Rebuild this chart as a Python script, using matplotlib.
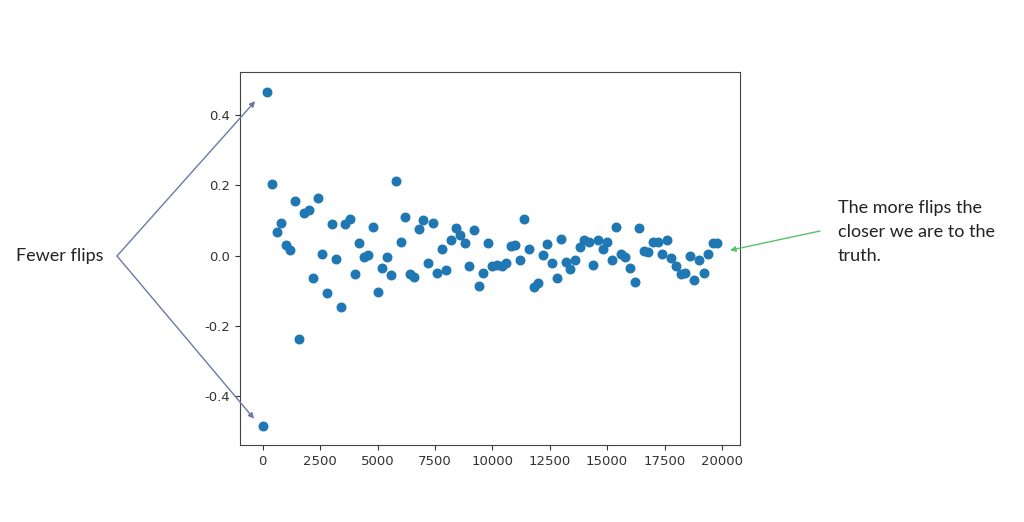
import numpy as np
import matplotlib.pyplot as plt

plt.rcParams['axes.unicode_minus'] = False

# number of flips (x) and estimation error (y)
flips = list(range(0, 20000, 200))
error = [
    -0.487, 0.467, 0.205, 0.067, 0.094, 0.031, 0.016, 0.155, -0.239, 0.121,
    0.131, -0.065, 0.165, 0.003, -0.106, 0.091, -0.009, -0.146, 0.091, 0.104,
    -0.053, 0.035, -0.005, 0.001, 0.081, -0.103, -0.035, -0.005, -0.055, 0.213,
    0.040, 0.110, -0.052, -0.062, 0.076, 0.102, -0.022, 0.093, -0.051, 0.019,
    -0.041, 0.043, 0.078, 0.059, 0.037, -0.031, 0.073, -0.087, -0.050, 0.037,
    -0.029, -0.026, -0.029, -0.021, 0.026, 0.031, -0.014, 0.104, 0.019, -0.090,
    -0.079, 0.002, 0.033, -0.022, -0.065, 0.048, -0.017, -0.039, -0.012, 0.023,
    0.045, 0.040, -0.027, 0.045, 0.020, 0.040, -0.012, 0.082, 0.004, -0.003,
    -0.036, -0.075, 0.079, 0.014, 0.009, 0.038, 0.040, 0.005, 0.044, -0.008,
    -0.031, -0.052, -0.049, -0.001, -0.070, -0.012, -0.050, 0.005, 0.036, 0.035,
]

left_note = "Fewer flips"
right_note = "The more flips the\ncloser we are to the\ntruth."

fig = plt.figure(figsize=(10.24, 5.22), dpi=100)
ax = fig.add_axes([0.2344, 0.1475, 0.4883, 0.7145])
ax.scatter(flips, error, s=38, color='#1f77b4')
ax.set_ylim(-0.54, 0.523)
ax.set_xticks([0, 2500, 5000, 7500, 10000, 12500, 15000, 17500, 20000])
ax.tick_params(labelsize=9.5, colors='#333333')
for sp in ax.spines.values():
    sp.set_color('#444444')

# annotations drawn on top like in the slide
note_font = dict(family=['Lato', 'DejaVu Sans'], fontsize=13, color='#222222')
fig.text(16 / 1024, 266 / 522, left_note, va='center', ha='left', **note_font)

blue = '#6a7aa6'
for tip in [(-330, 0.44), (-380, -0.465)]:
    ax.annotate('', xy=tip, xycoords='data',
                xytext=(117 / 1024, 266 / 522), textcoords='figure fraction',
                arrowprops=dict(arrowstyle='-|>', color=blue, lw=1.0,
                                shrinkA=0, shrinkB=0, mutation_scale=8),
                annotation_clip=False)

ax.annotate('', xy=(20350, 0.015), xycoords='data',
            xytext=(820 / 1024, 291 / 522), textcoords='figure fraction',
            arrowprops=dict(arrowstyle='-|>', color='#5cbf6a', lw=1.0,
                            shrinkA=0, shrinkB=0, mutation_scale=8),
            annotation_clip=False)
fig.text(838 / 1024, 290 / 522, right_note, va='center', ha='left',
         linespacing=1.6, **note_font)

fig.savefig('out.png', dpi=100)
